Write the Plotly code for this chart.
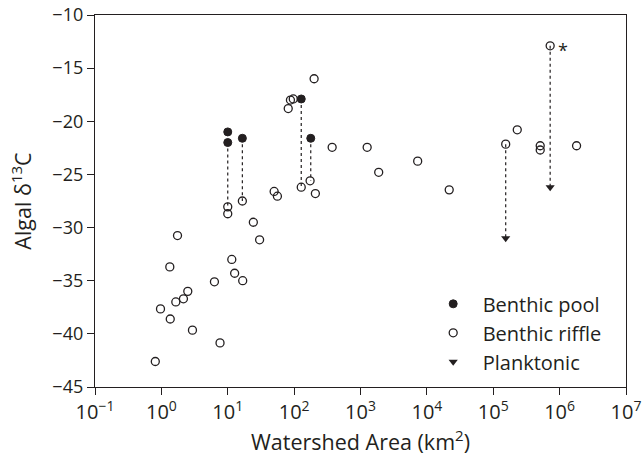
import math
import plotly.graph_objects as go

# Benthic pool (filled circles)
pool_x = [10, 10, 16.6, 128, 178]
pool_y = [-21.0, -22.0, -21.6, -17.9, -21.6]

# Benthic riffle (open circles)
riffle_x = [0.81, 0.97, 1.34, 1.36, 1.65, 1.75, 2.15, 2.5, 2.94, 6.3, 7.65,
            10, 10, 11.5, 12.7, 16.6, 16.8, 24.3, 30.2, 50, 56, 81.5, 88, 97,
            128, 174, 200, 209, 374, 1260, 1880, 7270, 21700, 1.54e5, 2.3e5,
            5.1e5, 5.1e5, 7.2e5, 1.8e6]
riffle_y = [-42.6, -37.65, -33.7, -38.6, -37.0, -30.75, -36.7, -36.0, -39.65, -35.1, -40.85,
            -28.05, -28.7, -33.0, -34.3, -27.5, -35.0, -29.5, -31.15, -26.6, -27.05, -18.8, -18.0, -17.9,
            -26.2, -25.6, -16.0, -26.8, -22.45, -22.45, -24.8, -23.75, -26.45, -22.15, -20.8,
            -22.3, -22.7, -12.9, -22.3]

# Planktonic (down triangles)
plank_x = [1.54e5, 7.2e5]
plank_y = [-31.0, -26.2]

# Dotted links (same watershed): x, upper value, lower value
link_x = [10, 16.6, 128, 178, 1.54e5, 7.2e5]
link_top = [-22.0, -21.6, -17.9, -21.6, -22.15, -12.9]
link_bot = [-28.05, -27.5, -26.2, -25.6, -31.0, -26.2]

# Flagged site (asterisk)
star_x = 7.2e5
star_y = -12.9

x_tick_exp = [-1, 0, 1, 2, 3, 4, 5, 6, 7]
y_ticks = [-45, -40, -35, -30, -25, -20, -15, -10]

ink = "#231f20"
font_family = "Open Sans, Noto Sans, sans-serif"

lx, ly = [], []
for x, t, b in zip(link_x, link_top, link_bot):
    lx += [x, x, None]
    ly += [t, b, None]

fig = go.Figure()
fig.add_trace(go.Scatter(x=lx, y=ly, mode="lines", showlegend=False,
                         line=dict(color=ink, width=1.2, dash="dot"), hoverinfo="skip"))
fig.add_trace(go.Scatter(x=pool_x, y=pool_y, mode="markers", name="Benthic pool",
                         legendgroup="a",
                         marker=dict(symbol="circle", size=8, color=ink,
                                     line=dict(color=ink, width=1))))
fig.add_trace(go.Scatter(x=riffle_x, y=riffle_y, mode="markers", name="Benthic riffle",
                         legendgroup="b",
                         marker=dict(symbol="circle-open", size=8, color=ink,
                                     line=dict(color=ink, width=1.3))))
fig.add_trace(go.Scatter(x=plank_x, y=plank_y, mode="markers", name="Planktonic",
                         legendgroup="c",
                         marker=dict(symbol="triangle-down", size=8, color=ink)))

# log axis: annotation positions are given in log10 units
fig.add_annotation(x=math.log10(star_x), y=star_y, xref="x", yref="y", text="*",
                   showarrow=False, xanchor="center", xshift=13, yshift=-4,
                   font=dict(size=18, color=ink, family=font_family))

fig.update_layout(
    width=643, height=464,
    margin=dict(l=95, r=17, t=15, b=77),
    paper_bgcolor="white", plot_bgcolor="white",
    font=dict(family=font_family, size=18, color=ink),
    legend=dict(x=0.619, y=0.276, xanchor="left", yanchor="top",
                bgcolor="rgba(0,0,0,0)", tracegroupgap=0, itemwidth=49,
                font=dict(size=20, color=ink, family=font_family)),
)
fig.update_xaxes(type="log", range=[-1, 7], automargin=False,
                 tickvals=[10.0 ** e for e in x_tick_exp],
                 ticktext=["10<sup>%s</sup>" % (str(e).replace("-", "\u2212")) for e in x_tick_exp],
                 tickfont=dict(size=20, color=ink, family=font_family),
                 ticks="outside", ticklen=7, tickwidth=1.2, tickcolor=ink,
                 showline=True, linecolor=ink, linewidth=1.3, mirror=True,
                 showgrid=False, zeroline=False,
                 title=dict(text="Watershed Area (km<sup>2</sup>)", standoff=8,
                            font=dict(size=21.5, color=ink, family=font_family)))
fig.update_yaxes(range=[-45, -10], tickvals=y_ticks, automargin=False,
                 tickfont=dict(size=18, color=ink, family=font_family),
                 ticks="outside", ticklen=7, tickwidth=1.2, tickcolor=ink,
                 showline=True, linecolor=ink, linewidth=1.3, mirror=True,
                 showgrid=False, zeroline=False,
                 title=dict(text="Algal \u03b4<sup>13</sup>C", standoff=14,
                            font=dict(size=21.5, color=ink, family=font_family)))

fig.write_html("out.html")
